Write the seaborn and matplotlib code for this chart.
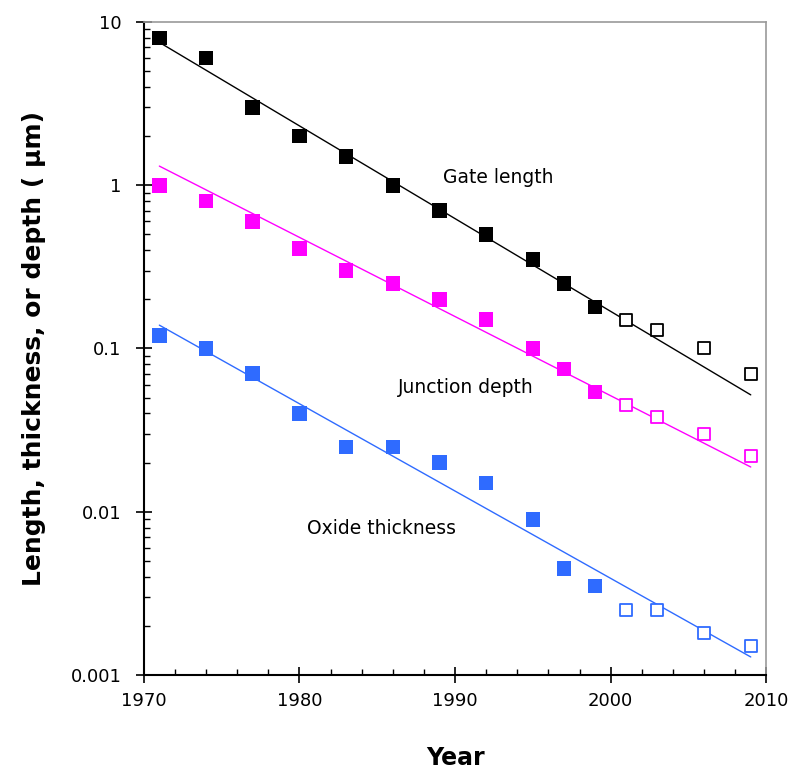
import numpy as np
import matplotlib
matplotlib.use('Agg')
import matplotlib.pyplot as plt
import matplotlib.ticker as mticker
import pandas as pd
import seaborn as sns

# Data
years_filled = [1971, 1974, 1977, 1980, 1983, 1986, 1989, 1992, 1995, 1997, 1999]
years_open = [2001, 2003, 2006, 2009]

gate_filled = [8.0, 6.0, 3.0, 2.0, 1.5, 1.0, 0.7, 0.5, 0.35, 0.25, 0.18]
gate_open = [0.15, 0.13, 0.10, 0.07]

junction_filled = [1.0, 0.8, 0.6, 0.41, 0.30, 0.25, 0.20, 0.15, 0.10, 0.075, 0.054]
junction_open = [0.045, 0.038, 0.030, 0.022]

oxide_filled = [0.12, 0.10, 0.07, 0.04, 0.025, 0.025, 0.020, 0.015, 0.009, 0.0045, 0.0035]
oxide_open = [0.0025, 0.0025, 0.0018, 0.0015]

# Trend line end points
trend_years = [1971, 2009]
gate_trend = [7.5, 0.052]
junction_trend = [1.31, 0.0188]
oxide_trend = [0.139, 0.00129]

series = ['Gate length', 'Junction depth', 'Oxide thickness']
colors = {'Gate length': '#000000', 'Junction depth': '#FF00FF', 'Oxide thickness': '#2F6BFF'}

filled = pd.DataFrame({
    'year': years_filled * 3,
    'value': gate_filled + junction_filled + oxide_filled,
    'series': np.repeat(series, len(years_filled)),
})
opened = pd.DataFrame({
    'year': years_open * 3,
    'value': gate_open + junction_open + oxide_open,
    'series': np.repeat(series, len(years_open)),
})
trend = pd.DataFrame({
    'year': trend_years * 3,
    'value': gate_trend + junction_trend + oxide_trend,
    'series': np.repeat(series, 2),
})

sns.set_style('white')
plt.rcParams['font.family'] = ['DejaVu Sans']
plt.rcParams['text.color'] = 'black'
plt.rcParams['axes.labelcolor'] = 'black'
plt.rcParams['xtick.color'] = 'black'
plt.rcParams['ytick.color'] = 'black'

fig = plt.figure(figsize=(7.9, 7.71), dpi=100)
ax = fig.add_axes([0.182, 0.1245, 0.788, 0.847])

sns.lineplot(data=trend, x='year', y='value', hue='series', palette=colors,
             linewidth=1.0, legend=False, ax=ax)
sns.scatterplot(data=filled, x='year', y='value', hue='series', palette=colors,
                marker='s', s=110, linewidth=0, legend=False, ax=ax)
# open squares
for name in series:
    sub = opened[opened['series'] == name]
    ax.scatter(sub['year'], sub['value'], marker='s', s=85, facecolors='white',
               edgecolors=colors[name], linewidths=1.3, zorder=3)

ax.set_yscale('log')
ax.set_xlim(1970, 2010)
ax.set_ylim(0.001, 10)

ax.set_xticks([1970, 1980, 1990, 2000, 2010])
ax.xaxis.set_minor_locator(mticker.MultipleLocator(2))
ax.set_yticks([0.001, 0.01, 0.1, 1, 10])
ax.set_yticklabels(['0.001', '0.01', '0.1', '1', '10'])
ax.yaxis.set_minor_locator(mticker.LogLocator(base=10, subs=np.arange(2, 10)))
ax.yaxis.set_minor_formatter(mticker.NullFormatter())

ax.tick_params(axis='both', which='both', bottom=True, left=True, top=False, right=False)
ax.tick_params(axis='both', which='major', direction='inout', length=12, width=1.2,
               labelsize=13)
ax.tick_params(axis='both', which='minor', direction='in', length=4, width=1.0)
ax.tick_params(axis='x', which='major', pad=6)
ax.tick_params(axis='y', which='major', pad=10)

for side in ['left', 'bottom']:
    ax.spines[side].set_color('black')
    ax.spines[side].set_linewidth(1.5)
for side in ['top', 'right']:
    ax.spines[side].set_color('#999999')
    ax.spines[side].set_linewidth(1.2)

ax.set_xlabel('Year', fontsize=17, fontweight='bold', labelpad=26)
ax.set_ylabel('Length, thickness, or depth ( \u03bcm)', fontsize=18, fontweight='bold', labelpad=18)

ax.text(1992.8, 1.12, 'Gate length', ha='center', va='center', fontsize=13.5)
ax.text(1990.7, 0.058, 'Junction depth', ha='center', va='center', fontsize=13.5)
ax.text(1985.3, 0.0079, 'Oxide thickness', ha='center', va='center', fontsize=13.5)

fig.savefig('out.png', dpi=100)
